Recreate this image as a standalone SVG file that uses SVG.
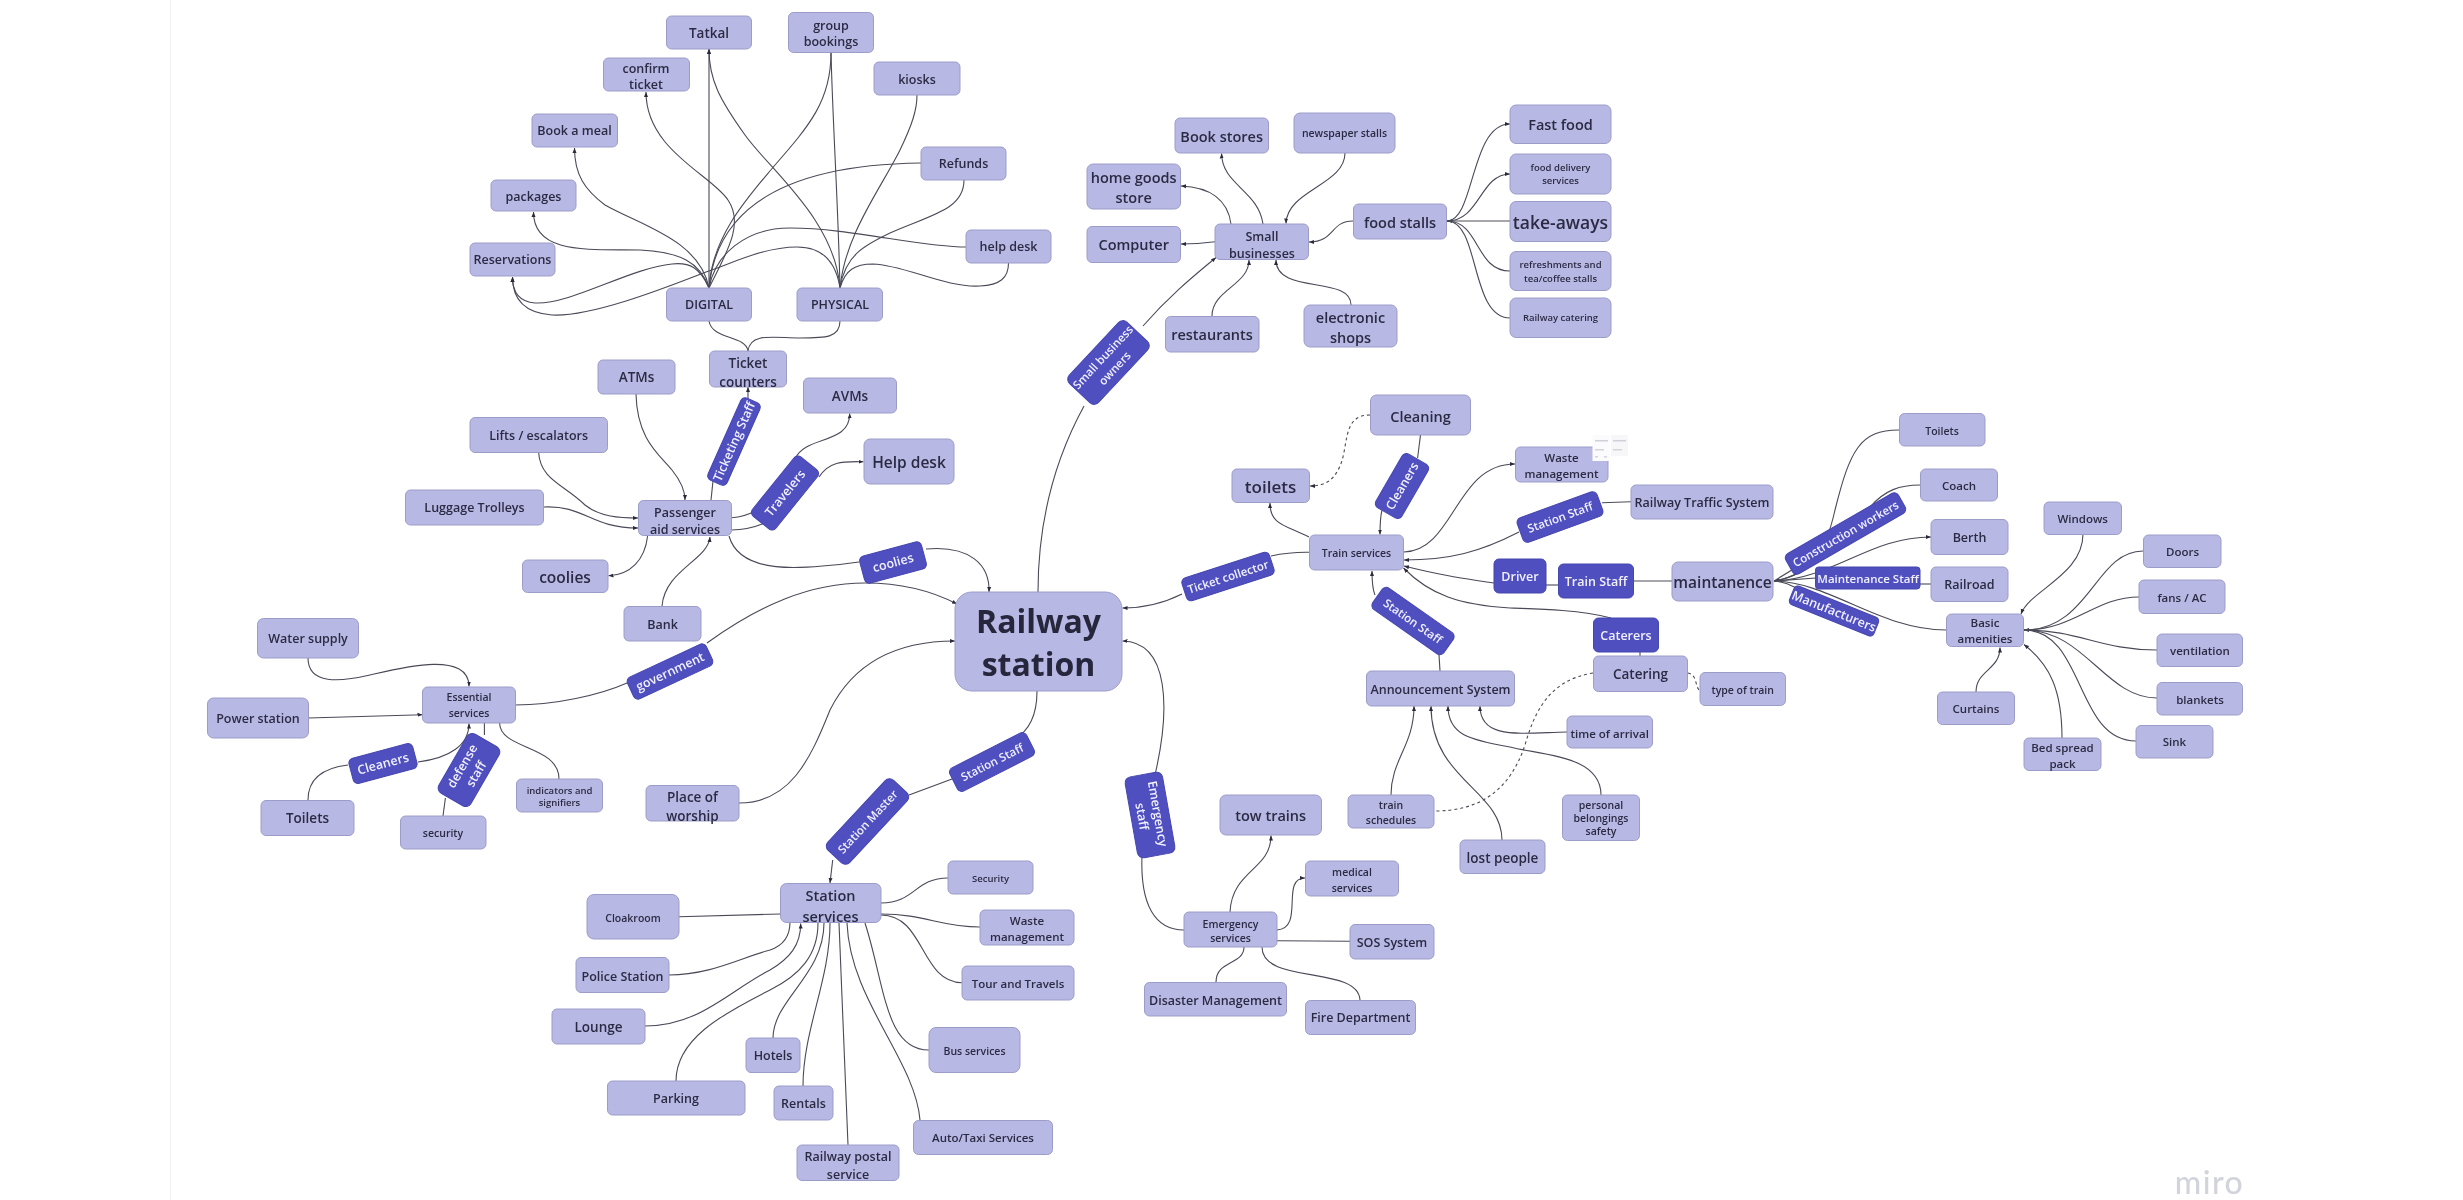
<svg xmlns="http://www.w3.org/2000/svg" width="2463" height="1200" viewBox="0 0 2463 1200">
<style>
.n{fill:#b8b8e4;stroke:#9c9cc8;stroke-width:1}
.p{fill:#4f4fc0;stroke:#4646b0;stroke-width:1}
text{font-family:"Open Sans","Noto Sans",sans-serif;font-weight:600;text-anchor:middle;dominant-baseline:central;fill:#2b2b44}
.w{fill:#f0f0ff}
.f9{font-size:9.5px}.f10{font-size:10.5px}.f11{font-size:11.5px}.f12{font-size:12.5px}.f13{font-size:13.5px}.f14{font-size:14.5px}.f15{font-size:15.5px}.f17{font-size:17.5px}
#conn path{fill:none;stroke:#4a4a58;stroke-width:1.1}
#conn .d{stroke-dasharray:3 3}
#conn .a{marker-end:url(#ah)}
#conn .s{marker-start:url(#ah)}
</style>
<defs><marker id="ah" markerUnits="userSpaceOnUse" markerWidth="6" markerHeight="6" refX="5" refY="3" orient="auto-start-reverse"><path d="M0,1L5,3L0,5Z" fill="#2a2a3c"/></marker>
<filter id="soft" filterUnits="userSpaceOnUse" x="0" y="0" width="2463" height="1200"><feGaussianBlur stdDeviation="0.4"/></filter></defs>
<rect width="2463" height="1200" fill="#fff"/>
<rect x="170" y="0" width="1" height="1200" fill="#f1f1f3"/>
<g filter="url(#soft)">
<g id="conn">
<path class="a" d="M709,288L709,49"/>
<path class="a" d="M709,288C725,255 745,225 728,200C712,175 646,150 646,92"/>
<path class="a" d="M709,288C700,240 640,225 605,205C585,190 574.5,175 574.5,148"/>
<path class="a" d="M709,288C700,262 680,252 640,250C590,249 533.5,255 533.5,212"/>
<path class="a" d="M709,288C700,268 690,262 672,264C630,268 570,305 535,303C522,302 512.5,295 512.5,277"/>
<path class="a" d="M840,288C836,262 822,247 797,247C765,247 735,262 706,272C660,290 590,317 552,315C525,313 512.5,300 512.5,277"/>
<path d="M966,247C920,247 850,228 790,228C745,228 715,255 709,288"/>
<path d="M709,288C712,235 750,195 775,165C810,125 831,100 831,53"/>
<path d="M709,288C715,225 760,165 921,163"/>
<path class="a" d="M840,288C835,220 770,170 745,135C720,100 709,80 709,49"/>
<path d="M840,288C838,200 833,130 831,53"/>
<path d="M840,288C845,235 880,190 900,150C912,125 917,110 917,95"/>
<path d="M840,288C845,255 865,245 890,233C930,215 964,210 964,180"/>
<path d="M840,288C845,270 855,264 873,264C905,265 945,288 980,286C1000,285 1008.5,278 1008.5,263"/>
<path d="M748,351C746,335 712,340 709,321"/>
<path d="M748,351C750,332 775,338 800,338C825,338 840,338 840,321"/>
<path d="M711,500L713,481"/>
<path class="a" d="M748,400L748,387"/>
<path class="a" d="M636,394C637,440 660,455 672,470C680,480 685,490 685,500"/>
<path class="a" d="M538.6,452C540,480 565,485 585,505C600,517 620,518 638,518"/>
<path class="a" d="M543.5,507C585,505 590,528 638,528"/>
<path class="a" d="M647.6,536C645,560 630,575 608.5,575.7"/>
<path class="a" d="M662,606C665,570 708,560 710,537"/>
<path d="M731.6,517.7C742,517 748,515 755,511"/>
<path d="M731.6,530C745,530 755,527 765,523"/>
<path class="a" d="M795,459C805,435 850,445 849.7,413.5"/>
<path class="a" d="M819,477C830,460 845,461.7 863.5,461.7"/>
<path d="M729,536C740,575 800,570 859,562"/>
<path class="a" d="M926,549C970,545 990,565 989,592"/>
<path d="M515,705C555,705 600,695 627,683"/>
<path class="a" d="M707,643C760,605 810,583 865,583C900,583 930,590 957,604"/>
<path class="a" d="M308,658C308,685 340,682 370,675C400,668 469,650 469,686.5"/>
<path class="a" d="M308,718L422.5,714.7"/>
<path d="M308,800C308,780 322,768 348,765"/>
<path class="a" d="M418,762C450,758 469,745 469,723.5"/>
<path d="M484.4,735L484.4,723"/>
<path d="M443,816L445.4,798"/>
<path d="M559,779C559,745 500,750 499.6,723"/>
<path class="a" d="M739,803C790,803 810,760 830,710C855,660 900,641 955,641"/>
<path d="M1037,691C1037,715 1030,730 1012,742"/>
<path d="M952,779L909,795"/>
<path class="a" d="M832.7,860L830,883"/>
<path d="M881,903C915,903 915,878 948,878"/>
<path d="M881,914C925,914 940,927 980,927"/>
<path d="M881,915C925,915 920,982 962,982.7"/>
<path d="M679,916.7L780.4,914"/>
<path d="M669,975C710,975 740,958 770,950C785,945 790,935 790,922"/>
<path class="a" d="M645,1026C700,1026 730,990 770,970C790,958 800.7,945 800.7,923.5"/>
<path d="M676,1081C676,1040 720,1015 770,990C800,975 818,955 818,923"/>
<path d="M773,1038C773,1000 824,975 824,923"/>
<path d="M803,1086C803,1030 830,980 830,923"/>
<path d="M848,1145L839,923"/>
<path d="M929,1050C885,1050 885,985 865,923"/>
<path d="M920,1120C915,1060 850,1000 847,923"/>
<path d="M1038,592C1038,510 1060,450 1084,406"/>
<path class="a" d="M1143,326C1170,295 1195,275 1216,257.5"/>
<path class="a" d="M1215,241.7C1205,243 1195,244 1181,244"/>
<path class="a" d="M1231,224C1228,200 1210,187 1181,186"/>
<path class="a" d="M1263,224C1258,190 1222,185 1221.6,153.5"/>
<path class="a" d="M1345,153C1345,185 1287,190 1286,223.5"/>
<path class="a" d="M1353,221C1330,221 1335,242 1309,242"/>
<path class="a" d="M1212,316C1212,290 1249,285 1249,260"/>
<path class="a" d="M1351,305C1351,275 1276,295 1276,260"/>
<path class="s" d="M1447,221L1510,221"/>
<path class="a" d="M1447,221C1475,221 1470,124 1510,124"/>
<path class="a" d="M1447,221C1480,221 1480,174 1510,174"/>
<path d="M1510,271C1475,271 1480,221 1447,221"/>
<path d="M1510,318C1470,318 1480,221 1447,221"/>
<path class="a" d="M1182,594C1160,605 1140,608 1122.5,608"/>
<path d="M1309.4,552.3C1295,552 1285,553 1271,556"/>
<path class="a" d="M1309,537C1285,525 1270,525 1270,503"/>
<path class="d a" d="M1370,415C1340,415 1350,450 1338,470C1333,480 1325,486 1310,486"/>
<path d="M1420.5,435L1417.6,458"/>
<path class="a" d="M1382,510C1380,518 1380,525 1380,534.5"/>
<path class="a" d="M1404,552C1455,550 1455,464 1515,464"/>
<path class="a" d="M1519,532C1480,552 1450,560 1404,560"/>
<path d="M1631,501.7L1602,502.7"/>
<path class="a" d="M1494,583C1460,578 1440,575 1404,566"/>
<path d="M1546,585L1558.5,585"/>
<path d="M1633.5,581L1672,581"/>
<path class="a" d="M1611,618C1580,610 1540,609 1510,608C1460,605 1430,595 1403.5,568"/>
<path d="M1640,652L1640,656"/>
<path class="d" d="M1593,673C1550,680 1535,710 1525,745C1510,790 1480,811 1435,811"/>
<path class="d" d="M1688,673C1697,675 1695,685 1699,690"/>
<path class="a" d="M1375,595C1372,588 1372,580 1372,571"/>
<path d="M1440,671L1439,655"/>
<path class="a" d="M1567,732C1520,733 1480,740 1480,706"/>
<path class="a" d="M1601,795C1601,755 1540,755 1510,747C1470,740 1448,735 1448,706"/>
<path class="a" d="M1502,840C1502,790 1431,780 1431,706"/>
<path class="a" d="M1391,795C1391,760 1414,745 1414,706"/>
<path class="s" d="M1774,581C1810,575 1825,555 1835,510C1850,450 1860,430 1899,430"/>
<path d="M1774,581C1815,575 1850,530 1870,507C1885,490 1900,485 1920,485"/>
<path class="a" d="M1774,581C1835,578 1870,537 1931,537"/>
<path d="M1774,581L1816,578"/>
<path d="M1920,584L1931,584"/>
<path d="M1774,581C1830,582 1880,630 1946,630"/>
<path d="M1774,581C1785,582 1790,585 1800,590"/>
<path d="M1774,581L1800,565"/>
<path class="a" d="M2083,534C2083,575 2030,590 2021,614"/>
<path class="s" d="M2024,630C2090,630 2095,551 2143,551"/>
<path d="M2139,597C2095,597 2075,630 2024,630"/>
<path d="M2157,650C2100,650 2080,630 2024,630"/>
<path d="M2157,698C2105,698 2085,630 2024,630"/>
<path d="M2136,741C2075,741 2085,630 2024,630"/>
<path class="a" d="M2062,738C2062,690 2050,665 2024,644.5"/>
<path class="a" d="M1976,692C1976,670 2000,670 2000,647.5"/>
<path class="a" d="M1155,775C1170,710 1170,642 1122.5,641"/>
<path d="M1142,855C1140,905 1155,930 1184,930"/>
<path class="a" d="M1230,912C1232,870 1271,870 1271,835.5"/>
<path class="a" d="M1277,930C1305,928 1280,878 1305,878"/>
<path d="M1277,940.7L1350,941.3"/>
<path d="M1216,982C1216,960 1244,965 1244,947"/>
<path d="M1360,1000C1358,965 1262,985 1262,947"/>
</g>

<g id="railway"><rect class="n" x="955" y="592" width="167" height="99" rx="17"/><text x="1038.5" y="620" font-size="32" style="font-weight:700;fill:#26263c">Railway</text><text x="1038.5" y="663" font-size="32" style="font-weight:700;fill:#26263c">station</text></g>

<g id="tatkal"><rect class="n" x="666.5" y="16" width="85" height="33" rx="5"/><text class="f13" x="709" y="32.5">Tatkal</text></g>
<g id="group"><rect class="n" x="788.5" y="12.5" width="85" height="40" rx="5"/><text class="f12" x="831" y="25">group</text><text class="f12" x="831" y="41">bookings</text></g>
<g id="confirm"><rect class="n" x="603.5" y="58" width="86" height="33" rx="5"/><text class="f12" x="646" y="68.5">confirm</text><text class="f12" x="646" y="84.5">ticket</text></g>
<g id="kiosks"><rect class="n" x="874" y="62" width="86" height="33" rx="5"/><text class="f12" x="917" y="79">kiosks</text></g>
<g id="bookmeal"><rect class="n" x="532" y="114" width="85.5" height="33" rx="5"/><text class="f12" x="574.5" y="130.5">Book a meal</text></g>
<g id="refunds"><rect class="n" x="921" y="147" width="85" height="33" rx="5"/><text class="f12" x="963.5" y="163.5">Refunds</text></g>
<g id="packages"><rect class="n" x="491" y="180" width="85" height="31" rx="5"/><text class="f12" x="533.5" y="196.5">packages</text></g>
<g id="helpdesk1"><rect class="n" x="966" y="230" width="85" height="33" rx="5"/><text class="f12" x="1008.5" y="246.5">help desk</text></g>
<g id="reservations"><rect class="n" x="470" y="243" width="85" height="33" rx="5"/><text class="f12" x="512.5" y="259.5">Reservations</text></g>
<g id="digital"><rect class="n" x="666.5" y="288" width="85" height="33" rx="5"/><text class="f12" x="709" y="304.5">DIGITAL</text></g>
<g id="physical"><rect class="n" x="797" y="288" width="85.5" height="33" rx="5"/><text class="f12" x="840" y="304.5">PHYSICAL</text></g>
<g id="counters"><rect class="n" x="709.5" y="351" width="77" height="36" rx="5"/><text class="f13" x="748" y="362.5">Ticket</text><text class="f13" x="748" y="381.5">counters</text></g>
<g id="atms"><rect class="n" x="598" y="360" width="77" height="34" rx="5"/><text class="f13" x="636.5" y="377">ATMs</text></g>
<g id="avms"><rect class="n" x="803.5" y="378" width="93" height="35" rx="5"/><text class="f13" x="850" y="395.5">AVMs</text></g>
<g id="lifts"><rect class="n" x="470" y="417.5" width="137.5" height="35" rx="5"/><text class="f12" x="538.7" y="435">Lifts / escalators</text></g>
<g id="luggage"><rect class="n" x="405.5" y="490" width="138" height="35" rx="5"/><text class="f12" x="474.5" y="507.5">Luggage Trolleys</text></g>
<g id="passenger"><rect class="n" x="638.5" y="500.5" width="93" height="35" rx="5"/><text class="f12" x="685" y="512">Passenger</text><text class="f12" x="685" y="529">aid services</text></g>
<g id="helpdesk2"><rect class="n" x="864" y="439" width="90" height="45" rx="6"/><text class="f15" x="909" y="461.5">Help desk</text></g>
<g id="coolies"><rect class="n" x="522.5" y="560" width="85.5" height="32.5" rx="5"/><text class="f15" x="565" y="577">coolies</text></g>
<g id="bank"><rect class="n" x="624" y="606.5" width="77" height="34.5" rx="5"/><text class="f12" x="662.5" y="624">Bank</text></g>
<g id="water"><rect class="n" x="257.5" y="618.5" width="101" height="39.5" rx="6"/><text class="f12" x="308" y="638">Water supply</text></g>
<g id="essential"><rect class="n" x="422.5" y="687" width="93" height="36" rx="5"/><text class="f10" x="469" y="697">Essential</text><text class="f10" x="469" y="713">services</text></g>
<g id="power"><rect class="n" x="207.5" y="698" width="101" height="40" rx="6"/><text class="f12" x="258" y="718">Power station</text></g>
<g id="toilets1"><rect class="n" x="261" y="800.5" width="93" height="35" rx="5"/><text class="f13" x="307.5" y="818">Toilets</text></g>
<g id="security1"><rect class="n" x="400.5" y="816" width="85.5" height="33" rx="5"/><text class="f10" x="443" y="833">security</text></g>
<g id="indicators"><rect class="n" x="516.5" y="779" width="86" height="33" rx="5"/><text class="f9" x="559.5" y="790">indicators and</text><text class="f9" x="559.5" y="802">signifiers</text></g>
<g id="worship"><rect class="n" x="646" y="785.5" width="93" height="35.5" rx="5"/><text class="f13" x="692.5" y="797">Place of</text><text class="f13" x="692.5" y="816">worship</text></g>

<g id="bookstores"><rect class="n" x="1175" y="118" width="93.5" height="35" rx="5"/><text class="f14" x="1221.7" y="136">Book stores</text></g>
<g id="newspaper"><rect class="n" x="1294" y="113" width="101" height="40" rx="6"/><text class="f10" x="1344.5" y="133">newspaper stalls</text></g>
<g id="homegoods"><rect class="n" x="1087" y="164" width="93.5" height="45" rx="6"/><text class="f14" x="1133.7" y="177">home goods</text><text class="f14" x="1133.7" y="197">store</text></g>
<g id="computer"><rect class="n" x="1087" y="226.5" width="93.5" height="36" rx="5"/><text class="f14" x="1133.7" y="244.5">Computer</text></g>
<g id="smallbiz"><rect class="n" x="1215" y="224" width="93.5" height="35.5" rx="5"/><text class="f12" x="1262" y="236">Small</text><text class="f12" x="1262" y="253">businesses</text></g>
<g id="foodstalls"><rect class="n" x="1353.5" y="204" width="93" height="35" rx="5"/><text class="f14" x="1400" y="222">food stalls</text></g>
<g id="fastfood"><rect class="n" x="1510" y="105" width="101" height="38.5" rx="6"/><text class="f14" x="1560.5" y="124.5">Fast food</text></g>
<g id="delivery"><rect class="n" x="1510" y="154" width="101" height="40" rx="6"/><text class="f9" x="1560.5" y="167">food delivery</text><text class="f9" x="1560.5" y="180">services</text></g>
<g id="takeaways"><rect class="n" x="1510" y="201.5" width="101" height="40" rx="6"/><text class="f17" x="1560.5" y="221.5">take-aways</text></g>
<g id="refresh"><rect class="n" x="1510" y="251.5" width="101" height="39" rx="6"/><text class="f9" x="1560.5" y="264.5">refreshments and</text><text class="f9" x="1560.5" y="278">tea/coffee stalls</text></g>
<g id="catering1"><rect class="n" x="1510" y="298" width="101" height="39.5" rx="6"/><text class="f9" x="1560.5" y="317.5">Railway catering</text></g>
<g id="restaurants"><rect class="n" x="1165.5" y="316.5" width="93.5" height="35.5" rx="5"/><text class="f14" x="1212" y="334.5">restaurants</text></g>
<g id="electronic"><rect class="n" x="1304" y="305" width="93" height="42" rx="6"/><text class="f14" x="1350.5" y="317">electronic</text><text class="f14" x="1350.5" y="337">shops</text></g>

<g id="cleaning"><rect class="n" x="1370.5" y="395" width="100" height="40" rx="6"/><text class="f14" x="1420.5" y="416">Cleaning</text></g>
<g id="toilets2"><rect class="n" x="1232" y="469" width="77.5" height="33.5" rx="5"/><text font-size="17" x="1270.5" y="486.5">toilets</text></g>
<g id="waste1"><rect class="n" x="1515.5" y="447" width="92.5" height="35" rx="5"/><text class="f11" x="1561.5" y="457">Waste</text><text class="f11" x="1561.5" y="473">management</text></g>
<g id="traffic"><rect class="n" x="1631" y="485" width="142" height="34" rx="5"/><text class="f12" x="1702" y="502">Railway Traffic System</text></g>
<g id="trainsvc"><rect class="n" x="1309.5" y="535" width="94" height="35" rx="5"/><text class="f10" x="1356.5" y="553">Train services</text></g>
<g id="maint"><rect class="n" x="1672" y="562" width="101" height="39" rx="6"/><text class="f15" x="1722.5" y="581.5">maintanence</text></g>
<g id="announce"><rect class="n" x="1366.5" y="671" width="148" height="35" rx="5"/><text class="f12" x="1440.5" y="689">Announcement System</text></g>
<g id="catering2"><rect class="n" x="1593.5" y="656" width="94" height="35.5" rx="5"/><text class="f13" x="1640.5" y="674">Catering</text></g>
<g id="typetrain"><rect class="n" x="1700" y="672.5" width="85.5" height="33" rx="5"/><text class="f10" x="1742.7" y="689.5">type of train</text></g>
<g id="arrival"><rect class="n" x="1567" y="716" width="85.5" height="32" rx="5"/><text class="f11" x="1609.7" y="733">time of arrival</text></g>
<g id="schedules"><rect class="n" x="1348" y="795" width="86" height="33" rx="5"/><text class="f10" x="1391" y="804.5">train</text><text class="f10" x="1391" y="820">schedules</text></g>
<g id="personal"><rect class="n" x="1562.5" y="795" width="77" height="45.5" rx="5"/><text class="f10" x="1601" y="805">personal</text><text class="f10" x="1601" y="818">belongings</text><text class="f10" x="1601" y="831">safety</text></g>
<g id="lost"><rect class="n" x="1460" y="840" width="85" height="33.5" rx="5"/><text class="f13" x="1502.5" y="858">lost people</text></g>
<g id="tow"><rect class="n" x="1220" y="795" width="101.5" height="40" rx="6"/><text class="f14" x="1270.7" y="815">tow trains</text></g>
<g id="medical"><rect class="n" x="1305.5" y="861" width="93" height="35" rx="5"/><text class="f10" x="1352" y="871.5">medical</text><text class="f10" x="1352" y="887.5">services</text></g>
<g id="emergency"><rect class="n" x="1184" y="912" width="93" height="35" rx="5"/><text class="f10" x="1230.5" y="923.5">Emergency</text><text class="f10" x="1230.5" y="937.5">services</text></g>
<g id="sos"><rect class="n" x="1350" y="924.5" width="84" height="34.5" rx="5"/><text class="f12" x="1392" y="942">SOS System</text></g>
<g id="disaster"><rect class="n" x="1144.5" y="982.5" width="142" height="33.5" rx="5"/><text class="f12" x="1215.5" y="1000">Disaster Management</text></g>
<g id="fire"><rect class="n" x="1305.5" y="1000.5" width="110" height="34" rx="5"/><text class="f12" x="1360.5" y="1017.5">Fire Department</text></g>

<g id="stationsvc"><rect class="n" x="780.5" y="883.5" width="100.5" height="39" rx="6"/><text class="f14" x="830.5" y="895">Station</text><text class="f14" x="830.5" y="916.5">services</text></g>
<g id="security2"><rect class="n" x="948" y="861" width="85" height="33" rx="5"/><text class="f9" x="990.5" y="878">Security</text></g>
<g id="waste2"><rect class="n" x="980" y="910" width="94" height="35" rx="5"/><text class="f11" x="1027" y="920">Waste</text><text class="f11" x="1027" y="936">management</text></g>
<g id="tour"><rect class="n" x="962" y="966" width="112" height="34" rx="5"/><text class="f11" x="1018" y="983">Tour and Travels</text></g>
<g id="cloak"><rect class="n" x="587" y="894.5" width="92" height="44.5" rx="7"/><text class="f10" x="633" y="917.5">Cloakroom</text></g>
<g id="police"><rect class="n" x="576" y="957.5" width="93" height="35" rx="5"/><text class="f12" x="622.5" y="976">Police Station</text></g>
<g id="lounge"><rect class="n" x="552" y="1009" width="93" height="35" rx="5"/><text class="f13" x="598.5" y="1027">Lounge</text></g>
<g id="parking"><rect class="n" x="607.5" y="1081" width="137.5" height="34" rx="5"/><text class="f12" x="676" y="1098">Parking</text></g>
<g id="hotels"><rect class="n" x="746" y="1038" width="54" height="34.5" rx="5"/><text class="f12" x="773" y="1055.5">Hotels</text></g>
<g id="rentals"><rect class="n" x="774" y="1086" width="59" height="34" rx="5"/><text class="f12" x="803.5" y="1103">Rentals</text></g>
<g id="postal"><rect class="n" x="797" y="1145" width="102" height="35.5" rx="5"/><text class="f12" x="848" y="1156">Railway postal</text><text class="f12" x="848" y="1174.5">service</text></g>
<g id="bus"><rect class="n" x="929" y="1027.5" width="91" height="45" rx="7"/><text class="f10" x="974.5" y="1050.5">Bus services</text></g>
<g id="taxi"><rect class="n" x="913.5" y="1120.5" width="139" height="34" rx="5"/><text class="f11" x="983" y="1137.5">Auto/Taxi Services</text></g>

<g id="toilets3"><rect class="n" x="1899.5" y="413.5" width="85.5" height="32.5" rx="5"/><text class="f10" x="1942" y="430.5">Toilets</text></g>
<g id="coach"><rect class="n" x="1920.5" y="469" width="77" height="32" rx="5"/><text class="f11" x="1959" y="485.5">Coach</text></g>
<g id="berth"><rect class="n" x="1931" y="519.5" width="77" height="35" rx="5"/><text class="f12" x="1969.5" y="537">Berth</text></g>
<g id="railroad"><rect class="n" x="1931" y="567" width="77" height="34.5" rx="5"/><text class="f12" x="1969.5" y="584.5">Railroad</text></g>
<g id="windows"><rect class="n" x="2044" y="502" width="77.5" height="32.5" rx="5"/><text class="f11" x="2082.7" y="518.5">Windows</text></g>
<g id="doors"><rect class="n" x="2143.5" y="535" width="77.5" height="32.5" rx="5"/><text class="f11" x="2182.5" y="551.5">Doors</text></g>
<g id="fans"><rect class="n" x="2139" y="580" width="86" height="33.5" rx="5"/><text class="f11" x="2182" y="597">fans / AC</text></g>
<g id="ventilation"><rect class="n" x="2157" y="634" width="85.5" height="32.5" rx="5"/><text class="f11" x="2200" y="650.5">ventilation</text></g>
<g id="blankets"><rect class="n" x="2157" y="682.5" width="85.5" height="32.5" rx="5"/><text class="f11" x="2200" y="699">blankets</text></g>
<g id="sink"><rect class="n" x="2136" y="725.5" width="77" height="32.5" rx="5"/><text class="f11" x="2174.5" y="741.5">Sink</text></g>
<g id="bedspread"><rect class="n" x="2024" y="738" width="77" height="32.5" rx="5"/><text class="f11" x="2062.5" y="747">Bed spread</text><text class="f11" x="2062.5" y="763">pack</text></g>
<g id="curtains"><rect class="n" x="1937.5" y="692" width="77" height="32.5" rx="5"/><text class="f11" x="1976" y="708.5">Curtains</text></g>
<g id="amenities"><rect class="n" x="1946.5" y="614" width="77" height="32.5" rx="5"/><text class="f11" x="1985" y="622.5">Basic</text><text class="f11" x="1985" y="638.5">amenities</text></g>

<g id="p-ticketing" transform="translate(734 441.5) rotate(-66)"><rect class="p" x="-45" y="-10.5" width="90" height="21" rx="5"/><text class="f12 w" x="0" y="0">Ticketing Staff</text></g>
<g id="p-travelers" transform="translate(785 493) rotate(-51)"><rect class="p" x="-38" y="-15" width="76" height="30" rx="5"/><text class="f12 w" x="0" y="0">Travelers</text></g>
<g id="p-coolies" transform="translate(893 562.5) rotate(-15)"><rect class="p" x="-32" y="-14" width="64" height="28" rx="5"/><text class="f12 w" x="0" y="0">coolies</text></g>
<g id="p-government" transform="translate(670 671.5) rotate(-25)"><rect class="p" x="-43.5" y="-12" width="87" height="24" rx="5"/><text class="f12 w" x="0" y="0">government</text></g>
<g id="p-cleaners1" transform="translate(383 763.5) rotate(-15)"><rect class="p" x="-33" y="-13" width="66" height="26" rx="5"/><text class="f12 w" x="0" y="0">Cleaners</text></g>
<g id="p-defense" transform="translate(469 770) rotate(-60)"><rect class="p" x="-34" y="-18.5" width="68" height="37" rx="6"/><text class="f12 w" x="0" y="-8">defense</text><text class="f12 w" x="0" y="8">staff</text></g>
<g id="p-master" transform="translate(867.5 821.5) rotate(-47)"><rect class="p" x="-48" y="-15" width="96" height="30" rx="6"/><text class="f11 w" x="0" y="0">Station Master</text></g>
<g id="p-staff1" transform="translate(992 762) rotate(-27)"><rect class="p" x="-43" y="-13" width="86" height="26" rx="5"/><text class="f11 w" x="0" y="0">Station Staff</text></g>
<g id="p-owners" transform="translate(1108.5 362.5) rotate(-47)"><rect class="p" x="-42" y="-20" width="84" height="40" rx="6"/><text class="f11 w" x="0" y="-8">Small business</text><text class="f11 w" x="0" y="8">owners</text></g>
<g id="p-collector" transform="translate(1228 576.5) rotate(-18)"><rect class="p" x="-46" y="-12" width="92" height="24" rx="5"/><text class="f11 w" x="0" y="0">Ticket collector</text></g>
<g id="p-cleaners2" transform="translate(1402 486) rotate(-60)"><rect class="p" x="-31" y="-15" width="62" height="30" rx="5"/><text class="f12 w" x="0" y="0">Cleaners</text></g>
<g id="p-staff2" transform="translate(1560 517) rotate(-20)"><rect class="p" x="-42.5" y="-13" width="85" height="26" rx="5"/><text class="f11 w" x="0" y="0">Station Staff</text></g>
<g id="p-driver"><rect class="p" x="1494" y="559" width="52" height="34" rx="5"/><text class="f12 w" x="1520" y="576.5">Driver</text></g>
<g id="p-trainstaff"><rect class="p" x="1558.5" y="564" width="75" height="34" rx="5"/><text class="f12 w" x="1596" y="581.5">Train Staff</text></g>
<g id="p-staff3" transform="translate(1413 621) rotate(35)"><rect class="p" x="-43.5" y="-13" width="87" height="26" rx="5"/><text class="f11 w" x="0" y="0">Station Staff</text></g>
<g id="p-caterers"><rect class="p" x="1593.5" y="618" width="65" height="34" rx="5"/><text class="f12 w" x="1626" y="635.5">Caterers</text></g>
<g id="p-construction" transform="translate(1845.5 533.5) rotate(-30)"><rect class="p" x="-65" y="-11.5" width="130" height="23" rx="5"/><text class="f11 w" x="0" y="0">Construction workers</text></g>
<g id="p-maintenance"><rect class="p" x="1815.5" y="567" width="104.5" height="22" rx="3"/><text class="f11 w" x="1868" y="578">Maintenance Staff</text></g>
<g id="p-manufacturers" transform="translate(1834 611) rotate(22)"><rect class="p" x="-45.5" y="-10" width="91" height="20" rx="4"/><text class="f12 w" x="0" y="0">Manufacturers</text></g>
<g id="p-emergency" transform="translate(1150 815) rotate(80)"><rect class="p" x="-41" y="-19" width="82" height="38" rx="6"/><text class="f12 w" x="0" y="-8">Emergency</text><text class="f12 w" x="0" y="8">staff</text></g>

<g id="thumb"><rect x="1592.5" y="435" width="17" height="26" fill="#fbfbfd"/><rect x="1611" y="435" width="17" height="21" fill="#f7f7fa"/><rect x="1595" y="440" width="13" height="1.5" fill="#d0d0d8"/><rect x="1613" y="440" width="13" height="1.5" fill="#d0d0d8"/><rect x="1595" y="449" width="9" height="1.5" fill="#d4d4dc"/><rect x="1613" y="449" width="9" height="1.5" fill="#d4d4dc"/><rect x="1595" y="456" width="3" height="1.5" fill="#d4d4dc"/><rect x="1604" y="456" width="3" height="1.5" fill="#d4d4dc"/></g>
<text x="2209.5" y="1181" font-size="32" style="font-family:Lato,'Open Sans',sans-serif;font-weight:500;letter-spacing:1.5px;fill:#d3d3dc">miro</text>
</g>
</svg>
